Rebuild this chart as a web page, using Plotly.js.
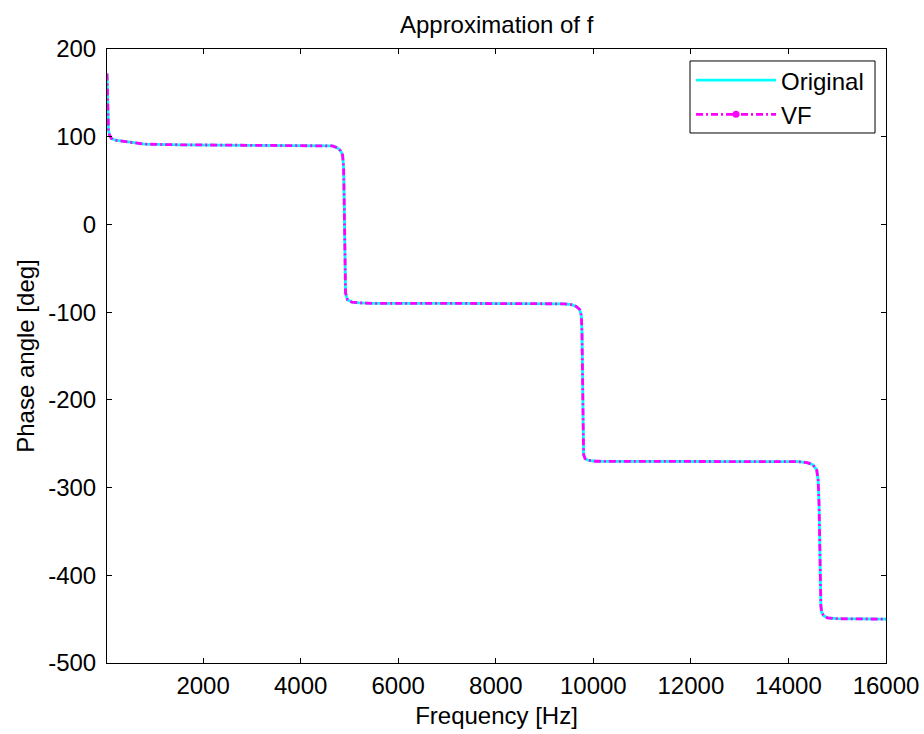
<!DOCTYPE html>
<html>
<head>
<meta charset="utf-8">
<script src="https://cdn.plot.ly/plotly-3.0.1.min.js"></script>
<style>html,body{margin:0;padding:0;background:#fff;}#chart{width:924px;height:734px;}</style>
</head>
<body>
<div id="chart"></div>
<script>
// Frequency samples [Hz]
const freq = [30, 40, 50, 60, 80, 120, 200, 350, 500, 600, 800, 1500, 3000, 4300,
  4500, 4650, 4750, 4820, 4860, 4880, 4892, 4900, 4908, 4920, 4960, 5050, 5200, 5500, 7000, 9000,
  9400, 9550, 9650, 9720, 9755, 9768, 9776, 9784, 9792, 9800, 9830, 9900, 10050, 12000, 14000,
  14200, 14380, 14500, 14580, 14610, 14628, 14640, 14652, 14665, 14680, 14720, 14800, 15000, 16000];

// Phase angle of the original function [deg]
const phaseOriginal = [172, 140, 118, 108, 102, 98, 96, 95, 94, 92.5, 91.5, 90.8, 90.5, 90.4,
  90.2, 89.5, 87.5, 84, 79, 65, 30, 0, -40, -78, -86, -88.5, -89.5, -90, -90, -90.2,
  -90.5, -91.5, -93.5, -97, -104, -125, -160, -200, -240, -262, -267, -269, -270, -270, -270.2,
  -270.5, -271.5, -274, -280, -292, -320, -360, -405, -435, -442, -446, -448.5, -449.5, -450];

// Phase angle of the vector-fitting approximation [deg]
const phaseVF = [172, 140, 118, 108, 102, 98, 96, 95, 94, 92.5, 91.5, 90.8, 90.5, 90.4,
  90.2, 89.5, 87.5, 84, 79, 65, 30, 0, -40, -78, -86, -88.5, -89.5, -90, -90, -90.2,
  -90.5, -91.5, -93.5, -97, -104, -125, -160, -200, -240, -262, -267, -269, -270, -270, -270.2,
  -270.5, -271.5, -274, -280, -292, -320, -360, -405, -435, -442, -446, -448.5, -449.5, -450];

const xTicks = [2000, 4000, 6000, 8000, 10000, 12000, 14000, 16000];
const yTicks = [-500, -400, -300, -200, -100, 0, 100, 200];
const seriesNames = ['Original', 'VF'];
const chartTitle = 'Approximation of f';
const xLabel = 'Frequency [Hz]';
const yLabel = 'Phase angle [deg]';

const FONT = 'Liberation Sans, Arial, Helvetica, sans-serif';
const FS = 24;

const traces = [
  {x: freq, y: phaseOriginal, type: 'scatter', mode: 'lines', name: seriesNames[0],
   line: {color: '#00FFFF', width: 2.8}, legendgroup: 'a', showlegend: true},
  {x: freq, y: phaseVF, type: 'scatter', mode: 'lines', name: seriesNames[1],
   line: {color: '#FF00FF', width: 2.8, dash: '7px,3px,2px,3px'}, legendgroup: 'b', showlegend: false},
  {x: [null], y: [null], type: 'scatter', mode: 'lines+markers', name: seriesNames[1],
   line: {color: '#FF00FF', width: 2.8, dash: '7px,3px,2px,3px'},
   marker: {color: '#FF00FF', size: 7, symbol: 'circle'}, legendgroup: 'b', showlegend: true}
];

const axisCommon = {
  showline: true, linecolor: '#000', linewidth: 1, mirror: 'allticks',
  ticks: 'inside', ticklen: 5, tickcolor: '#000', tickwidth: 1,
  showgrid: false, zeroline: false,
  tickfont: {family: FONT, size: FS, color: '#000'},
  automargin: false
};

const layout = {
  width: 924, height: 734,
  paper_bgcolor: '#fff', plot_bgcolor: '#fff',
  margin: {l: 107, r: 38, t: 49, b: 71},
  font: {family: FONT, color: '#000'},
  title: {text: chartTitle, font: {family: FONT, size: FS, color: '#000'},
          x: 0.5375, xanchor: 'center', y: 0.966, yanchor: 'middle'},
  xaxis: Object.assign({}, axisCommon, {
    range: [30, 16000], tickvals: xTicks, ticktext: xTicks.map(String),
    ticklabelstandoff: 1,
    title: {text: xLabel, font: {family: FONT, size: FS, color: '#000'}, standoff: 9}
  }),
  yaxis: Object.assign({}, axisCommon, {
    range: [-500, 200], tickvals: yTicks, ticktext: yTicks.map(String),
    ticklabelstandoff: 5,
    title: {text: yLabel, font: {family: FONT, size: FS, color: '#000'}, standoff: 6}
  }),
  shapes: [{
    type: 'rect', xref: 'paper', yref: 'paper', layer: 'above',
    x0: 0.7484, x1: 0.9859, y0: 0.8632, y1: 0.9805,
    line: {color: '#000', width: 1}, fillcolor: '#fff'
  }],
  showlegend: true,
  legend: {
    x: 0.7497, xanchor: 'left', y: 0.9853, yanchor: 'top',
    bgcolor: 'rgba(0,0,0,0)', borderwidth: 0,
    font: {family: FONT, size: FS, color: '#000'},
    itemwidth: 80, traceorder: 'grouped', tracegroupgap: 0
  }
};

Plotly.newPlot('chart', traces, layout, {displayModeBar: false, staticPlot: true});
</script>
</body>
</html>
